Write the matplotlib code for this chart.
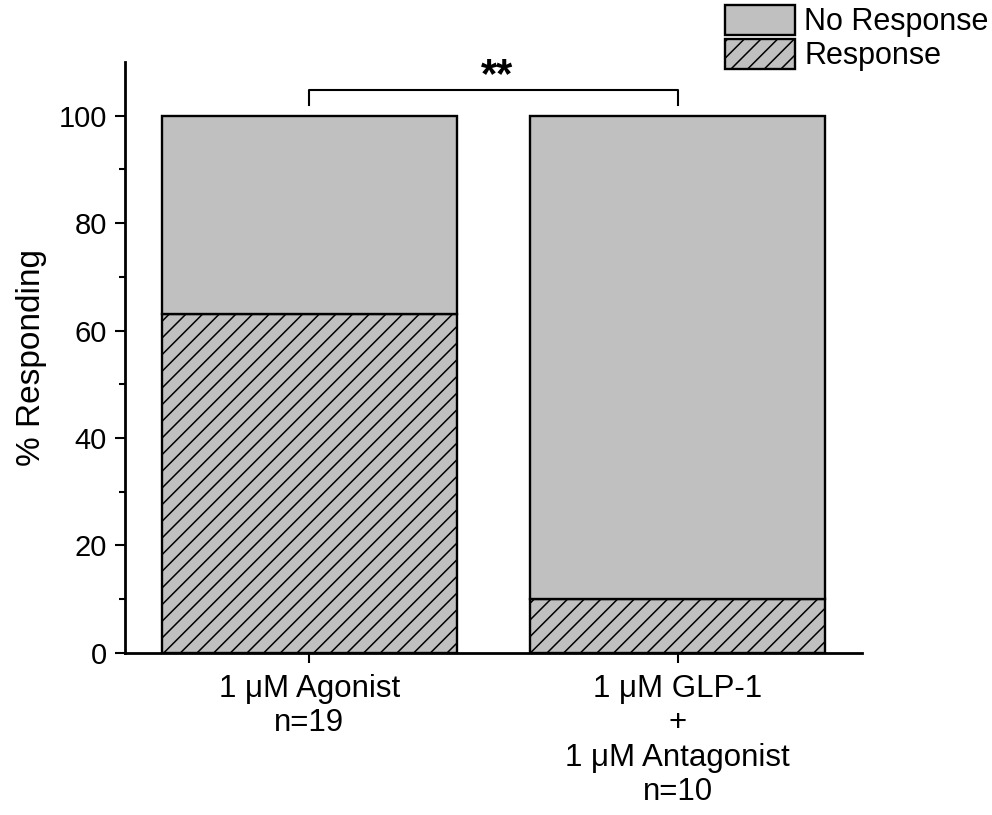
import matplotlib
matplotlib.use("Agg")
import matplotlib.pyplot as plt
from matplotlib.patches import Patch

plt.rcParams['font.family'] = ['Liberation Sans', 'DejaVu Sans']
plt.rcParams['hatch.linewidth'] = 1.1

# Data
groups = ["1 \u03bcM Agonist\nn=19", "1 \u03bcM GLP-1\n+\n1 \u03bcM Antagonist\nn=10"]
response = [63.16, 10.0]
no_response = [36.84, 90.0]
significance = "**"

gray = "#c0c0c0"

fig = plt.figure(figsize=(9.92, 8.15), dpi=100)
ax = fig.add_axes([0.126, 0.199, 0.743, 0.725])

x = [1, 2]
ax.bar(x, response, width=0.8, color=gray, edgecolor="black", linewidth=1.7,
       hatch="//", label="Response")
ax.bar(x, no_response, width=0.8, bottom=response, color=gray, edgecolor="black",
       linewidth=1.7, label="No Response")

ax.set_xlim(0.5, 2.5)
ax.set_ylim(0, 110)
ax.set_yticks([0, 20, 40, 60, 80, 100])
ax.set_yticks([10, 30, 50, 70, 90], minor=True)
ax.set_xticks(x)
ax.set_xticklabels(groups, fontsize=22.5, linespacing=1.2)
ax.tick_params(axis='y', labelsize=21, width=1.5, length=7, direction='out', pad=6)
ax.tick_params(axis='y', which='minor', width=1.5, length=4)
ax.tick_params(axis='x', width=1.5, length=7, direction='out', pad=8)
ax.set_ylabel("% Responding", fontsize=24, labelpad=8)

for s in ["top", "right"]:
    ax.spines[s].set_visible(False)
for s in ["left", "bottom"]:
    ax.spines[s].set_linewidth(2)

# Significance bracket
ax.plot([1, 1, 2, 2], [102, 104.8, 104.8, 102], color="black", lw=1.5,
        clip_on=False)
ax.text(1.51, 103.6, significance, ha="center", va="bottom", fontsize=30,
        fontweight="bold")

handles = [Patch(facecolor=gray, edgecolor="black", linewidth=1.7, label="No Response"),
           Patch(facecolor=gray, edgecolor="black", linewidth=1.7, hatch="//",
                 label="Response")]
fig.legend(handles=handles, loc="upper left", bbox_to_anchor=(0.726, 1.0),
           frameon=False, fontsize=22, handlelength=2.3, handleheight=1.15,
           handletextpad=0.3, labelspacing=0.05, borderaxespad=0, borderpad=0.15)

fig.savefig("out.png", dpi=100)
